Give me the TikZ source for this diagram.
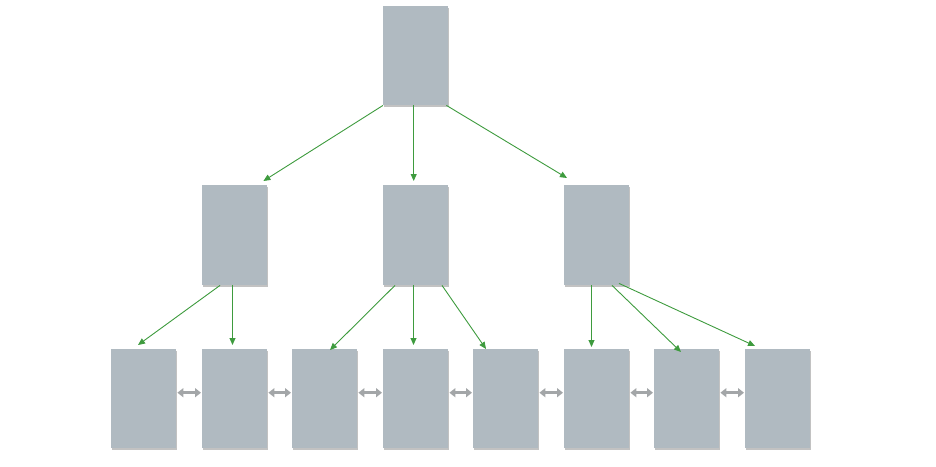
\documentclass[tikz,border=0pt]{standalone}
\usetikzlibrary{arrows.meta,shadows}
\definecolor{boxgray}{HTML}{B0BAC1}
\definecolor{linkgreen}{HTML}{3E9B3E}
\definecolor{siblinggray}{HTML}{A3A6A8}
\begin{document}
\begin{tikzpicture}[x=1pt,y=-1pt,
  block/.style={fill=boxgray,draw=none,minimum width=65pt,minimum height=99pt,
    inner sep=0pt,anchor=north west,
    drop shadow={shadow xshift=1pt,shadow yshift=-1.4pt,opacity=0.4,fill=black!60}},
  child/.style={draw=linkgreen,line width=0.9pt,-{Triangle[length=7pt,width=6pt]}},
  sibling/.style={draw=siblinggray,line width=2.6pt,
    {Triangle[length=6pt,width=9pt]}-{Triangle[length=6pt,width=9pt]},shorten <=1pt,shorten >=1pt}]
\useasboundingbox (0,0) rectangle (936,466);
% root
\node[block] (r) at (383,6) {};
% middle level
\node[block,minimum height=100pt] (m1) at (202,185) {};
\node[block,minimum height=100pt] (m2) at (383,185) {};
\node[block,minimum height=100pt] (m3) at (564,185) {};
% leaf level
\node[block] (l1) at (111,349) {};
\node[block] (l2) at (202,349) {};
\node[block] (l3) at (292,349) {};
\node[block] (l4) at (383,349) {};
\node[block] (l5) at (473,349) {};
\node[block] (l6) at (564,349) {};
\node[block] (l7) at (654,349) {};
\node[block] (l8) at (745,349) {};
% root to middle
\draw[child] (r.south west) -- ([xshift=-4pt,yshift=4pt]m1.north east);
\draw[child] ([xshift=-2pt]r.south) -- ([xshift=-2pt,yshift=4pt]m2.north);
\draw[child] ([xshift=-2pt]r.south east) -- ([xshift=3pt,yshift=7pt]m3.north west);
% middle to leaves
\draw[child] ([xshift=18pt]m1.south west) -- ([xshift=27pt,yshift=4pt]l1.north west);
\draw[child] ([xshift=30.5pt]m1.south west) -- ([xshift=30.5pt,yshift=4pt]l2.north west);
\draw[child] ([xshift=12pt]m2.south west) -- ([xshift=38pt,yshift=-1pt]l3.north west);
\draw[child] ([xshift=30.5pt]m2.south west) -- ([xshift=30.5pt,yshift=4pt]l4.north west);
\draw[child] ([xshift=59pt]m2.south west) -- ([xshift=13pt]l5.north west);
\draw[child] ([xshift=27.5pt]m3.south west) -- ([xshift=27.5pt,yshift=2pt]l6.north west);
\draw[child] ([xshift=48pt]m3.south west) -- ([xshift=27pt,yshift=-3pt]l7.north west);
\draw[child] ([xshift=55pt,yshift=2pt]m3.south west) -- ([xshift=10pt,yshift=3pt]l8.north west);
% links between neighbouring leaves
\foreach \a/\b in {l1/l2,l2/l3,l3/l4,l4/l5,l5/l6,l6/l7,l7/l8}
  \draw[sibling] ([yshift=6pt]\a.east) -- ([yshift=6pt]\b.west);
\end{tikzpicture}
\end{document}
